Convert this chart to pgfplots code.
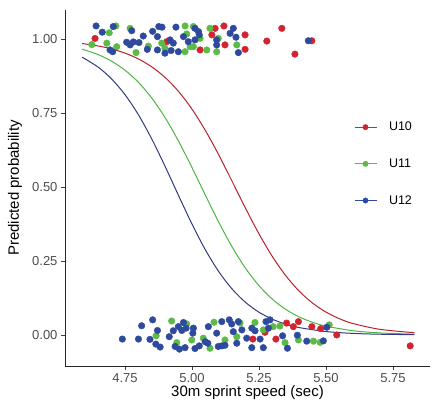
\documentclass[border=0pt]{standalone}
\usepackage{fontspec}
\setmainfont{Liberation Sans}
\usepackage{pgfplots}
\pgfplotsset{compat=1.18}

\definecolor{cRed}{HTML}{D2232F}
\definecolor{cGreen}{HTML}{5CBA47}
\definecolor{cBlue}{HTML}{2E4A9E}
\definecolor{lRed}{HTML}{B5222C}
\definecolor{lGreen}{HTML}{4DB545}
\definecolor{lBlue}{HTML}{323A82}
\definecolor{tickgray}{HTML}{4D4D4D}

% fitted curves
\pgfplotstableread{
x p
4.59 0.9846
4.65 0.9764
4.70 0.9664
4.75 0.9523
4.80 0.9326
4.85 0.9057
4.90 0.8697
4.95 0.8224
5.00 0.7628
5.05 0.6906
5.10 0.6078
5.15 0.5182
5.20 0.4275
5.25 0.3414
5.30 0.2646
5.35 0.1999
5.40 0.1478
5.45 0.1075
5.50 0.0771
5.55 0.0548
5.60 0.0387
5.70 0.0190
5.83 0.0075
}\curveRed
\pgfplotstableread{
x p
4.59 0.9657
4.65 0.9472
4.70 0.9250
4.75 0.8944
4.80 0.8535
4.85 0.8002
4.90 0.7335
4.95 0.6542
5.00 0.5652
5.05 0.4719
5.10 0.3805
5.15 0.2968
5.20 0.2249
5.25 0.1663
5.30 0.1205
5.35 0.0861
5.40 0.0608
5.45 0.0426
5.50 0.0297
5.60 0.0142
5.70 0.0068
5.83 0.0026
}\curveGreen
\pgfplotstableread{
x p
4.59 0.9385
4.65 0.9047
4.70 0.8649
4.75 0.8118
4.80 0.7439
4.85 0.6618
4.90 0.5687
4.95 0.4704
5.00 0.3744
5.05 0.2873
5.10 0.2136
5.15 0.1547
5.20 0.1097
5.25 0.0767
5.30 0.0530
5.35 0.0363
5.40 0.0248
5.50 0.0114
5.60 0.0052
5.70 0.0024
5.83 0.0008
}\curveBlue

% jittered observations
\pgfplotstableread{
x y
4.638 1.002
4.906 0.991
5.086 1.036
5.074 1.014
5.119 1.044
5.123 0.980
5.198 1.014
5.198 0.965
5.030 0.963
5.279 0.993
5.335 1.036
5.384 0.949
5.447 0.994
5.227 -0.014
5.272 0.009
5.313 -0.014
5.353 0.040
5.378 0.028
5.397 0.045
5.447 0.028
5.480 0.021
5.540 0.000
5.814 -0.037
}\ptsRed
\pgfplotstableread{
x y
4.716 1.044
4.691 1.021
4.682 0.986
4.626 0.981
4.719 0.974
4.769 1.036
4.791 0.954
4.837 0.976
4.887 0.986
4.899 0.969
4.974 1.044
5.005 1.042
4.980 1.017
4.974 0.957
5.005 0.974
5.030 1.002
5.067 1.036
5.055 0.963
5.092 0.957
5.098 1.002
5.167 0.980
4.993 0.974
4.924 0.047
4.980 0.037
4.866 -0.003
4.999 -0.017
5.042 -0.011
5.067 -0.045
5.082 0.043
5.123 -0.017
5.179 0.040
5.167 -0.006
5.235 0.042
5.266 0.017
5.303 0.028
5.328 0.030
5.347 -0.026
5.397 -0.017
5.453 -0.021
5.478 -0.025
5.512 0.034
4.943 -0.026
}\ptsGreen
\pgfplotstableread{
x y
4.642 1.044
4.665 1.023
4.706 1.042
4.775 1.028
4.781 0.990
4.756 0.989
4.769 0.980
4.802 0.988
4.818 1.010
4.833 0.965
4.853 1.026
4.876 1.042
4.888 1.040
4.871 1.008
4.871 0.963
4.899 0.952
4.922 0.961
4.940 1.040
4.918 0.997
4.930 0.986
4.949 0.957
4.968 1.008
4.986 0.991
5.011 1.036
5.024 1.025
5.027 1.014
5.011 0.997
5.092 0.997
5.092 0.980
5.142 1.019
5.154 1.036
5.164 1.006
5.173 0.954
4.704 0.957
4.694 0.963
5.434 0.994
4.740 -0.014
4.800 -0.014
4.812 0.031
4.843 -0.015
4.853 0.051
4.871 0.015
4.865 -0.031
4.881 -0.041
4.915 -0.006
4.930 0.014
4.949 0.028
4.968 0.042
4.962 0.015
4.978 0.023
5.005 0.023
5.003 0.006
4.937 -0.039
4.953 -0.048
4.974 -0.043
5.011 -0.046
5.027 -0.037
5.049 -0.023
5.059 -0.028
5.061 0.028
5.092 0.006
5.098 -0.039
5.111 -0.037
5.123 -0.035
5.111 0.045
5.139 0.051
5.148 0.037
5.154 0.011
5.173 0.045
5.167 -0.028
5.186 0.017
5.204 -0.011
5.223 0.023
5.235 0.014
5.223 -0.043
5.254 -0.014
5.266 -0.043
5.276 0.045
5.291 0.051
5.285 0.023
5.338 -0.003
5.356 -0.045
5.393 -0.001
5.428 -0.021
5.490 -0.020
5.503 0.026
}\ptsBlue

\begin{document}
\begin{tikzpicture}
\begin{axis}[
  width=365pt, height=356pt, scale only axis,
  xmin=4.526, xmax=5.888, ymin=-0.105, ymax=1.098,
  xtick={4.75,5,5.25,5.5,5.75},
  ytick={0,0.25,0.5,0.75,1},
  /pgf/number format/assume math mode=true,
  xticklabel style={/pgf/number format/.cd, fixed, fixed zerofill, precision=2},
  yticklabel style={/pgf/number format/.cd, fixed, fixed zerofill, precision=2},
  tick label style={font=\fontsize{13}{13}\selectfont, text=tickgray},
  axis x line*=bottom, axis y line*=left,
  axis line style={line width=0.9pt, color=black!85},
  tick align=outside, major tick length=4pt,
  tick style={line width=0.8pt, color=black!75},
  xlabel={30m sprint speed (sec)}, ylabel={Predicted probability},
  label style={font=\fontsize{15}{15}\selectfont},
  xlabel style={at={(axis description cs:0.5,-0.076)}, anchor=center},
  ylabel style={at={(axis description cs:-0.137,0.5)}, anchor=center},
  legend style={draw=none, fill=none, at={(axis description cs:0.783,0.697)},
    anchor=north west, row sep=22.5pt, column sep=10pt,
    font=\fontsize{12.5}{12.5}\selectfont},
  legend cell align=left,
  legend image code/.code={
    \draw[line width=1pt] (0pt,0pt) -- (22pt,0pt);
    \fill (11pt,0pt) circle (2.7pt);
  },
]
  \addplot[lRed, line width=1pt, smooth, forget plot] table[x=x, y=p] {\curveRed};
  \addplot[lGreen, line width=1pt, smooth, forget plot] table[x=x, y=p] {\curveGreen};
  \addplot[lBlue, line width=1pt, smooth, forget plot] table[x=x, y=p] {\curveBlue};

  \addplot[only marks, mark=*, mark size=3.3pt, color=cRed, forget plot] table {\ptsRed};
  \addplot[only marks, mark=*, mark size=3.3pt, color=cGreen, forget plot] table {\ptsGreen};
  \addplot[only marks, mark=*, mark size=3.3pt, color=cBlue, forget plot] table {\ptsBlue};

  \addlegendimage{color=cRed}
  \addlegendentry{U10}
  \addlegendimage{color=cGreen}
  \addlegendentry{U11}
  \addlegendimage{color=cBlue}
  \addlegendentry{U12}
\end{axis}
% margins round the axis as in the reference
\path ([xshift=-65pt, yshift=-48pt]current axis.south west) ([xshift=3pt, yshift=10pt]current axis.north east);
\end{tikzpicture}
\end{document}
